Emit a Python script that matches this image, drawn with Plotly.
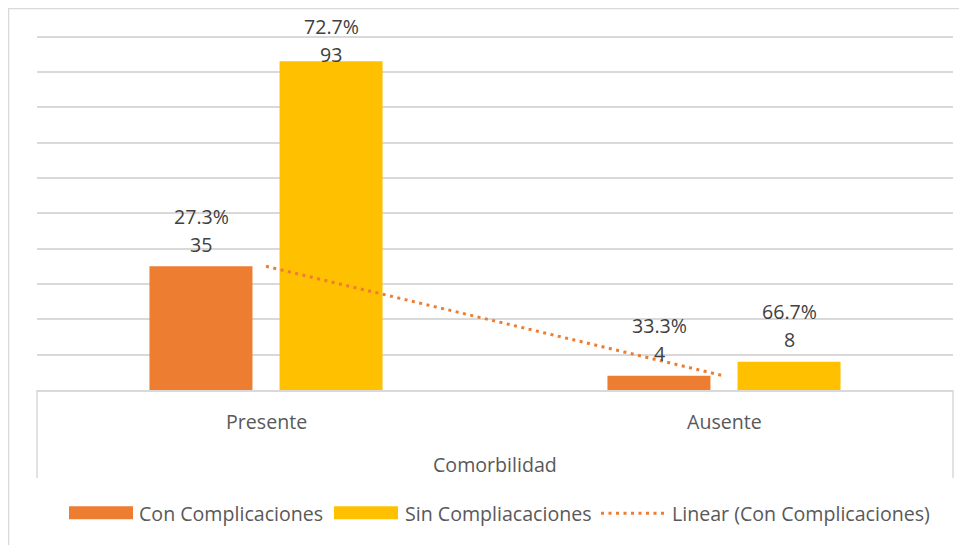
import numpy as np
import plotly.graph_objects as go

categories = ["Presente", "Ausente"]
group_label = "Comorbilidad"
series_names = ["Con Complicaciones", "Sin Compliacaciones"]
con_values = [35, 4]
sin_values = [93, 8]
con_pct = ["27.3%", "33.3%"]
sin_pct = ["72.7%", "66.7%"]
trend_name = "Linear (Con Complicaciones)"

ORANGE = "#ED7D31"
YELLOW = "#FFC000"
GRID = "#D9D9D9"
TXT = "#595959"
LBL = "#404040"
FONT = "Open Sans"
FS = 19.6

OFF = 8                     # page body margin
W, H = 967 - OFF, 545 - OFF
X0, X1, Y0 = 37, 953, 390   # absolute plot-area left, right, bottom (page px)
YMAX = 100
YTOP = 101                  # small headroom so the 100 gridline is drawn
scale = (390 - 37) / YMAX   # px per unit
PW = X1 - X0
PH = YTOP * scale
L = X0 - OFF
R = W - (X1 - OFF)
B = H - (Y0 - OFF)
T = H - B - PH

def px(x):
    return (x - X0) / PW

def py(y):
    return (Y0 - y) / PH

fig = go.Figure()
fig.add_trace(go.Bar(x=categories, y=con_values, name=series_names[0],
                     marker=dict(color=ORANGE, line=dict(width=0))))
fig.add_trace(go.Bar(x=categories, y=sin_values, name=series_names[1],
                     marker=dict(color=YELLOW, line=dict(width=0))))

# linear trendline of the first series
idx = np.arange(1, len(categories) + 1)
slope, icpt = np.polyfit(idx, con_values, 1)
trend = slope * idx + icpt
fig.add_trace(go.Scatter(x=categories, y=trend, mode="lines", name=trend_name,
                         line=dict(color=ORANGE, width=3, dash="3px,4.5px")))

annotations = []
for vals, pcts, off in [(con_values, con_pct, -65), (sin_values, sin_pct, 65)]:
    for c, v, p in zip(categories, vals, pcts):
        top = Y0 - v * scale
        pct_c = max(top - 50, 27)
        num_c = pct_c + 28
        annotations.append(dict(x=c, y=v, xref="x", yref="y", text=p, showarrow=False,
                                xshift=off, yshift=top - pct_c, yanchor="middle",
                                font=dict(family=FONT, size=FS, color=LBL)))
        annotations.append(dict(x=c, y=v, xref="x", yref="y", text=str(v), showarrow=False,
                                xshift=off, yshift=top - num_c, yanchor="middle",
                                font=dict(family=FONT, size=FS, color=LBL)))

# category labels
for c in categories:
    annotations.append(dict(x=c, y=0, xref="x", yref="paper", text=c, showarrow=False,
                            yshift=-31.5, yanchor="middle",
                            font=dict(family=FONT, size=FS, color=TXT)))
annotations.append(dict(x=px(494.5), y=py(464), xref="paper", yref="paper", text=group_label,
                        showarrow=False, yanchor="middle",
                        font=dict(family=FONT, size=FS, color=TXT)))

# legend (manual, Excel-like)
leg_y = py(513)
for x_txt, text in [(137, series_names[0]), (403, series_names[1]), (670, trend_name)]:
    annotations.append(dict(x=px(x_txt), y=leg_y, xref="paper", yref="paper", text=text,
                            showarrow=False, xanchor="left", yanchor="middle",
                            font=dict(family=FONT, size=FS, color=TXT)))

shapes = [
    # outer chart border
    dict(type="rect", xref="paper", yref="paper", x0=px(8.5), x1=px(975), y0=py(555), y1=py(9),
         line=dict(color=GRID, width=1.5), layer="below"),
    # category box sides
    dict(type="line", xref="paper", yref="paper", x0=0, x1=0, y0=0, y1=py(478),
         line=dict(color=GRID, width=1.5)),
    dict(type="line", xref="paper", yref="paper", x0=1, x1=1, y0=0, y1=py(478),
         line=dict(color=GRID, width=1.5)),
    # legend symbols
    dict(type="rect", xref="paper", yref="paper", x0=px(69), x1=px(133), y0=py(519), y1=py(506),
         fillcolor=ORANGE, line=dict(width=0)),
    dict(type="rect", xref="paper", yref="paper", x0=px(334), x1=px(398), y0=py(519), y1=py(506),
         fillcolor=YELLOW, line=dict(width=0)),
    dict(type="line", xref="paper", yref="paper", x0=px(601), x1=px(666), y0=leg_y, y1=leg_y,
         line=dict(color=ORANGE, width=3, dash="3px,4.5px")),
]

fig.update_layout(
    width=W, height=H,
    margin=dict(l=L, r=R, t=T, b=B, pad=0),
    paper_bgcolor="white", plot_bgcolor="white",
    barmode="group", bargap=0.432, bargroupgap=0.208,
    showlegend=False,
    annotations=annotations, shapes=shapes,
    font=dict(family=FONT, size=FS, color=TXT),
)
fig.update_xaxes(showticklabels=False, showline=True, linecolor=GRID, linewidth=1.5,
                 ticks="", showgrid=False, zeroline=False, fixedrange=True)
fig.update_yaxes(range=[0, YTOP], dtick=10, showgrid=True, gridcolor=GRID, gridwidth=1.5,
                 showticklabels=False, ticks="", zeroline=False, showline=False, fixedrange=True)

fig.write_html("out.html")
